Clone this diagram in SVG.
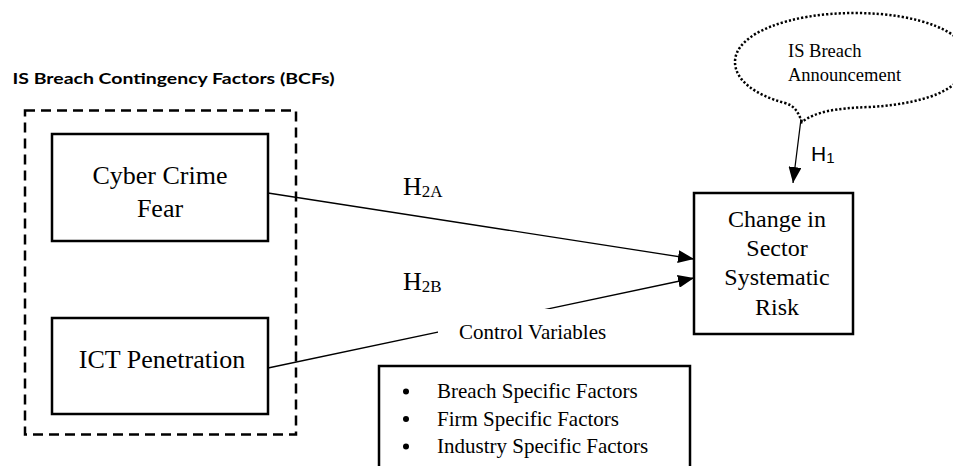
<svg xmlns="http://www.w3.org/2000/svg" width="953" height="466" viewBox="0 0 953 466">
<style>
.box{fill:#fff;stroke:#000;stroke-width:2.5}
.serif{font-family:"Liberation Serif","Times New Roman",serif;fill:#000}
.conn{stroke:#000;stroke-width:1.3;fill:none}
</style>
<defs>
<marker id="arr" markerUnits="userSpaceOnUse" markerWidth="16" markerHeight="13" refX="16" refY="6.5" orient="auto">
<path d="M0,0 L16,6.5 L0,13 Z" fill="#000"/>
</marker>
</defs>
<rect width="953" height="466" fill="#fff"/>
<text x="12.5" y="84" font-family="Lato, Open Sans, Liberation Sans, sans-serif" font-weight="bold" font-size="14.5" textLength="322" lengthAdjust="spacingAndGlyphs">IS Breach Contingency Factors (BCFs)</text>
<g id="bcf-group">
<rect x="25" y="110.5" width="271" height="324" fill="none" stroke="#000" stroke-width="2.5" stroke-dasharray="10 6"/>
</g>
<g id="connectors">
<line class="conn" x1="268" y1="193" x2="694" y2="259" marker-end="url(#arr)"/>
<line class="conn" x1="268" y1="368" x2="694" y2="278" marker-end="url(#arr)"/>
<line class="conn" x1="802" y1="111" x2="793" y2="183" marker-end="url(#arr)"/>
</g>
<g id="cyber-crime">
<rect class="box" x="52" y="134" width="216" height="107"/>
<text class="serif" font-size="26" text-anchor="middle"><tspan x="160" y="184">Cyber Crime</tspan><tspan x="160" y="217">Fear</tspan></text>
</g>
<g id="ict">
<rect class="box" x="52" y="318" width="216" height="96"/>
<text class="serif" font-size="26" text-anchor="middle" x="162" y="368">ICT Penetration</text>
</g>
<g id="risk">
<rect class="box" x="694" y="193" width="159" height="141"/>
<text class="serif" font-size="24" text-anchor="middle"><tspan x="777" y="227">Change in</tspan><tspan x="777" y="256">Sector</tspan><tspan x="777" y="285">Systematic</tspan><tspan x="777" y="315">Risk</tspan></text>
</g>
<g id="announcement">
<path d="M 802,122 C 798,112 795,106 785,103 C 755,95 735,80 735,62 C 735,33 790,13 855,13 C 920,13 968,33 968,58 C 968,85 935,103 870,107 C 835,108 815,112 802,122 Z" fill="#fff" stroke="#000" stroke-width="2.5" stroke-dasharray="2.2 2"/>
<text class="serif" font-size="18.5"><tspan x="788" y="57">IS Breach</tspan><tspan x="788" y="81">Announcement</tspan></text>
</g>
<g id="labels">
<text class="serif" font-size="26" x="403" y="195">H<tspan font-size="17" dy="2">2A</tspan></text>
<text class="serif" font-size="26" x="403" y="290">H<tspan font-size="17" dy="2">2B</tspan></text>
<text font-family="Liberation Sans, Arial, sans-serif" font-size="21" x="811" y="161">H<tspan font-size="15" dy="2">1</tspan></text>
</g>
<g id="control-variables">
<rect x="438" y="309" width="180" height="37" fill="#fff"/>
<text class="serif" font-size="21" x="459" y="339">Control Variables</text>
</g>
<g id="control-list">
<rect class="box" x="379" y="366" width="311" height="110"/>
<circle cx="406" cy="391.5" r="3" fill="#000"/>
<circle cx="406" cy="419" r="3" fill="#000"/>
<circle cx="406" cy="446.5" r="3" fill="#000"/>
<text class="serif" font-size="21"><tspan x="437" y="398">Breach Specific Factors</tspan><tspan x="437" y="426">Firm Specific Factors</tspan><tspan x="437" y="453">Industry Specific Factors</tspan></text>
</g>
</svg>
